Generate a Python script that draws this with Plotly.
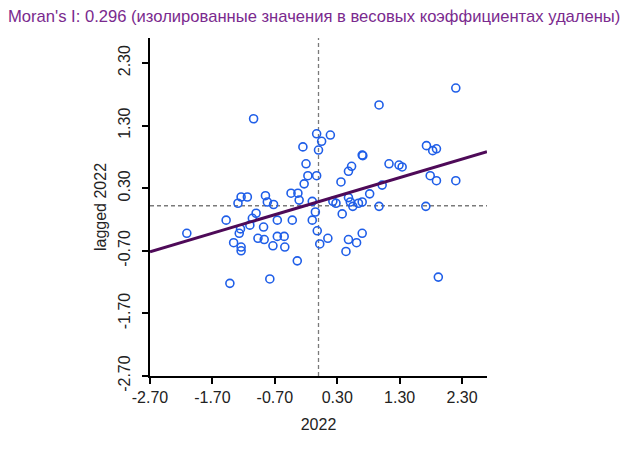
import plotly.graph_objects as go

# standardized values (2022) and their spatial lags
x_vals = [2.20, 0.97, -1.04, -0.03, 0.19, 0.05, -0.25, 0.00, 1.73, 1.89,
          1.83, 0.70, 0.71, -0.20, 1.13, 1.29, 1.34, 0.53, 0.48, -0.17,
          -0.03, 1.79, 1.89, 2.20, 0.36, -0.23, 1.02, -0.44, -0.33, 0.82,
          -1.24, -1.14, -0.85, 0.48, -0.31, -0.82, -1.29, -0.72, -0.10, 0.23,
          0.28, 0.51, 0.64, 0.70, 0.55, 0.97, 1.72, -1.00, -0.05, 0.38,
          -1.06, -1.48, -0.66, -0.42, -0.10, -1.10, -1.25, -0.88, -0.02, -2.11,
          -1.27, 0.70, -0.66, -0.55, -0.97, -0.87, 0.15, 0.48, 0.61, -1.36,
          0.02, -0.73, -0.54, -1.24, -1.24, 0.44, -0.34, -0.78, 1.92, -1.42]
y_vals = [1.90, 1.63, 1.41, 1.17, 1.15, 1.05, 0.96, 0.91, 0.98, 0.93,
          0.90, 0.83, 0.82, 0.69, 0.69, 0.67, 0.64, 0.65, 0.57, 0.50,
          0.50, 0.50, 0.42, 0.42, 0.40, 0.37, 0.35, 0.22, 0.22, 0.21,
          0.16, 0.16, 0.18, 0.15, 0.11, 0.08, 0.06, 0.04, 0.09, 0.09,
          0.06, 0.08, 0.06, 0.08, 0.01, 0.01, 0.01, -0.10, -0.08, -0.11,
          -0.18, -0.21, -0.21, -0.21, -0.21, -0.29, -0.35, -0.32, -0.38, -0.42,
          -0.42, -0.42, -0.47, -0.47, -0.50, -0.52, -0.50, -0.52, -0.57, -0.57,
          -0.59, -0.62, -0.64, -0.64, -0.70, -0.71, -0.86, -1.15, -1.12, -1.22]

moran_i = 0.296
intercept = 0.085
x_mean = 0.0
y_mean = 0.02

axis_min, axis_max = -2.7, 2.7
tick_vals = [-2.7, -1.7, -0.7, 0.3, 1.3, 2.3]
tick_text = ["-2.70", "-1.70", "-0.70", "0.30", "1.30", "2.30"]

FONT = "Liberation Sans, Arial"

fig = go.Figure()

# regression line across the whole plot
line_x = [axis_min, axis_max]
line_y = [intercept + moran_i * v for v in line_x]

fig.add_trace(go.Scatter(
    x=x_vals, y=y_vals, mode="markers",
    marker=dict(symbol="circle-open", size=8, color="#1f5ee8",
                line=dict(width=1.6, color="#1f5ee8")),
    showlegend=False, hoverinfo="x+y"))

fig.add_trace(go.Scatter(
    x=line_x, y=line_y, mode="lines",
    line=dict(color="#4e0a58", width=3),
    showlegend=False, hoverinfo="skip"))

# mean lines
fig.add_shape(type="line", xref="x", yref="y", x0=x_mean, x1=x_mean,
              y0=axis_min, y1=axis_max, layer="below",
              line=dict(color="#7a7a7a", width=1.3, dash="4px,3px"))
fig.add_shape(type="line", xref="x", yref="y", x0=axis_min, x1=axis_max,
              y0=y_mean, y1=y_mean, layer="below",
              line=dict(color="#7a7a7a", width=1.3, dash="4px,3px"))

axis_style = dict(range=[axis_min, axis_max], tickvals=tick_vals, ticktext=tick_text,
                  showline=True, linecolor="black", linewidth=2, mirror=False,
                  ticks="outside", ticklen=6, tickwidth=2, tickcolor="black",
                  showgrid=False, zeroline=False, automargin=False,
                  tickfont=dict(family=FONT, size=16, color="#222"))

fig.update_xaxes(**axis_style,
                 title=dict(text="2022", standoff=14,
                            font=dict(family=FONT, size=16, color="#222")))
fig.update_yaxes(**axis_style, tickangle=-90, ticklabelstandoff=6,
                 title=dict(text="lagged 2022", standoff=5,
                            font=dict(family=FONT, size=16, color="#222")))

# page body adds an 8px offset, so the figure is 8px smaller and margins shifted
fig.update_layout(
    width=629, height=443,
    margin=dict(l=142, r=150, t=30, b=75),
    plot_bgcolor="white", paper_bgcolor="white",
    title=dict(text=f"Moran's I: {moran_i:.3f} (изолированные значения в весовых коэффициентах удалены)",
               x=0.0, xanchor="left", xref="container",
               y=0.982, yanchor="middle", yref="container",
               font=dict(family=FONT, size=16.6, color="#7a2a8e")),
)

fig.write_html("out.html")
